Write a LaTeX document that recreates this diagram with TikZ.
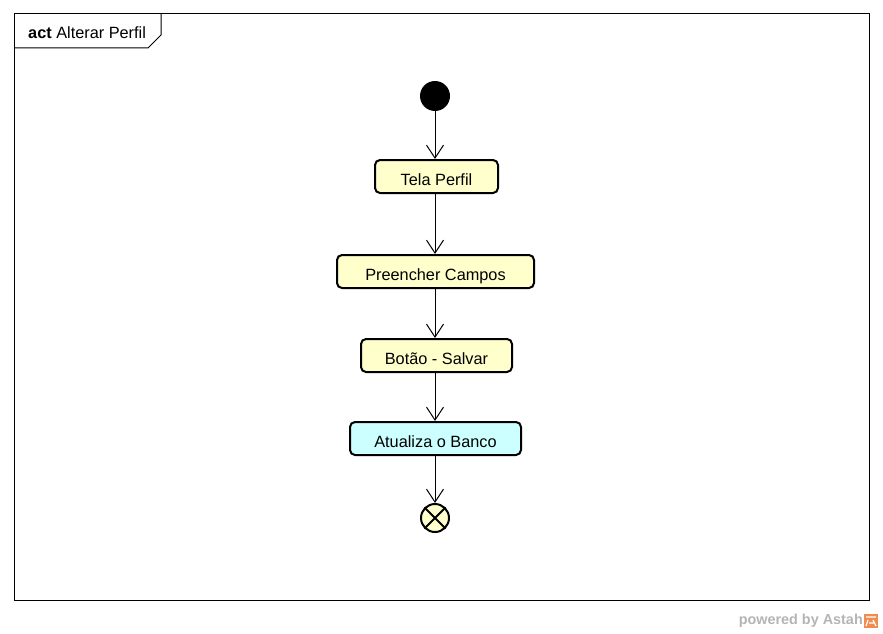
\documentclass[tikz,border=0pt]{standalone}
\usepackage{fontspec}
\setmainfont{Liberation Sans}
\usetikzlibrary{arrows.meta}
\definecolor{actyellow}{HTML}{FFFFCC}
\definecolor{actcyan}{HTML}{CCFFFF}
\definecolor{astahgray}{HTML}{B4B4B4}
\definecolor{astahorange}{HTML}{F08C50}
\tikzset{
  labelfont/.style={font=\fontsize{16.3}{18}\selectfont},
  action/.style={draw, line width=2pt, rounded corners=5pt, fill=actyellow,
    minimum height=33pt, inner sep=0pt, labelfont, text height=17pt, text depth=0pt},
  flow/.style={line width=1pt, -{Straight Barb[length=13pt, width=17pt, line width=1pt]}},
}
\begin{document}
\begin{tikzpicture}[x=1pt, y=-1pt]
  \useasboundingbox (0,0) rectangle (883,634);
  % diagram frame with its name tab
  \draw[line width=1pt] (14,14) rectangle (869,600);
  \draw[line width=1pt] (14,48) -- (148,48) -- (161,35) -- (161,14);
  \node[anchor=west, labelfont, inner sep=0pt] (title) at (28,33)
    {\textbf{act} Alterar Perfil};

  % initial node
  \node[circle, fill=black, minimum size=30pt, inner sep=0pt] (start) at (435,96) {};

  % actions
  \node[action, minimum width=123pt] (tela) at (436.5,176.5) {Tela Perfil};
  \node[action, minimum width=197pt] (campos) at (435.5,271.5) {Preencher Campos};
  \node[action, minimum width=151pt] (botao) at (436.5,355.5) {Botão - Salvar};
  \node[action, minimum width=171pt, fill=actcyan] (banco) at (435.5,438.5) {Atualiza o Banco};

  % final node
  \node[circle, draw, line width=2pt, fill=actyellow, minimum size=28pt, inner sep=0pt] (fim) at (435,518) {};
  \draw[line width=2pt] (fim.45) -- (fim.225) (fim.135) -- (fim.315);

  % control flows
  \draw[flow] (start) -- (start |- tela.north);
  \draw[flow] (tela.south -| start) -- (start |- campos.north);
  \draw[flow] (campos.south -| start) -- (start |- botao.north);
  \draw[flow] (botao.south -| start) -- (start |- banco.north);
  \draw[flow] (banco.south -| start) -- (fim.north);

  % tool mark
  \node[anchor=east, text=astahgray, font=\fontsize{14.4}{16}\selectfont\bfseries, inner sep=0pt] (powered) at (863,621)
    {powered by Astah};
  \fill[astahorange] (864,614) rectangle (878,628);
  \draw[white, line width=1.2pt] (866,617) -- (876,617) (868,620) -- (866,626) (873,620) -- (876,626) (869,623) -- (874,623);
\end{tikzpicture}
\end{document}
